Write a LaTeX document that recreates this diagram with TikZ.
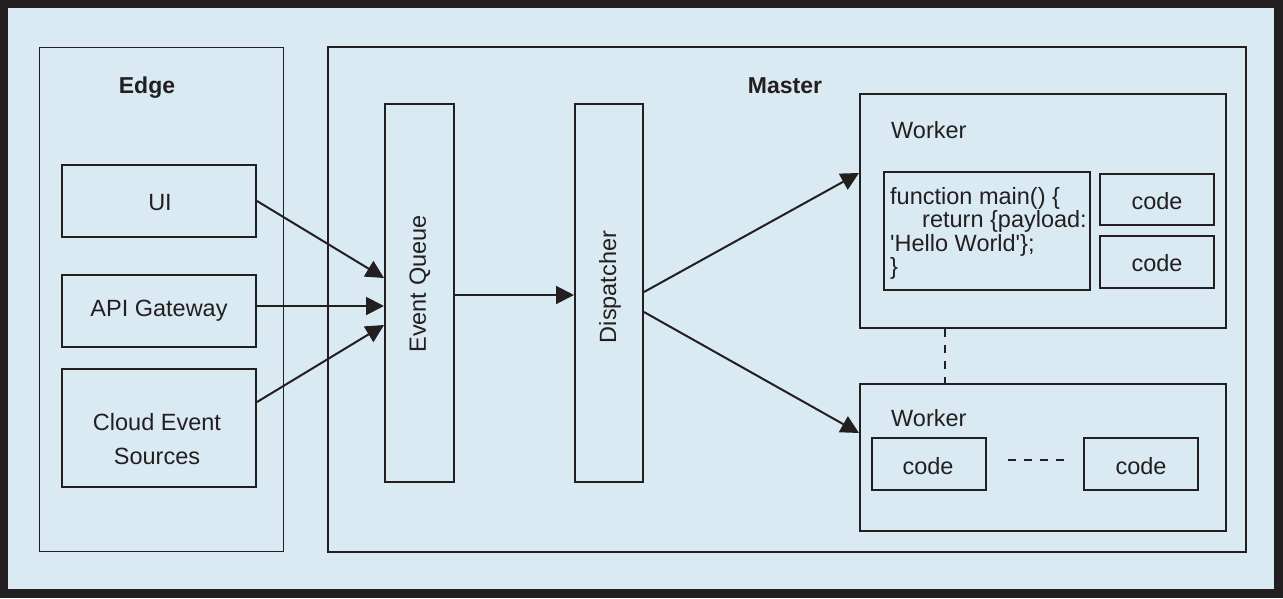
\documentclass[tikz,border=0pt]{standalone}
\usepackage{fontspec}
\setmainfont{Liberation Sans}
\newfontfamily\plainsans{Liberation Sans}
\usetikzlibrary{arrows.meta}
\definecolor{ink}{HTML}{231F20}
\definecolor{bgblue}{HTML}{DAEAF2}
\tikzset{
  box/.style={draw=ink, line width=2pt, inner sep=0pt, text=ink, font=\fontsize{23.5}{34}\selectfont, align=center},
  thinbox/.style={draw=ink, line width=1pt, inner sep=0pt},
  lbl/.style={text=ink, inner sep=0pt, font=\fontsize{23.5}{28}\selectfont},
  blbl/.style={text=ink, inner sep=0pt, font=\fontsize{23}{28}\selectfont\bfseries},
  arr/.style={draw=ink, line width=2pt, -{Triangle[length=18pt,width=18pt]}},
  dashline/.style={draw=ink, line width=2pt, dash pattern=on 8pt off 8pt},
}
\begin{document}
\begin{tikzpicture}[x=1pt,y=-1pt]
\useasboundingbox (0,0) rectangle (1283,598);
\fill[ink] (0,0) rectangle (1283,598);
\fill[bgblue] (8,8) rectangle (1274,589);
% containers
\node[thinbox, minimum width=244, minimum height=504] (edge) at (161,299) {};
\node[box, minimum width=918, minimum height=505] (master) at (787,299.5) {};
\node[blbl] (edgelbl) at (147,88) {Edge};
\node[blbl] (masterlbl) at (785,86) {Master};
% sources
\node[box, minimum width=194, minimum height=72] (ui) at (159,201) {};
\node[lbl] (uilbl) at (160,203) {UI};
\node[box, minimum width=194, minimum height=72] (api) at (159,311) {API Gateway};
\node[box, minimum width=194, minimum height=118] (cloud) at (159,428) {};
\node[lbl, align=center, font=\fontsize{23.5}{34}\selectfont] (cloudlbl) at (157,439) {Cloud Event\\Sources};
% queue and dispatcher
\node[box, minimum width=69, minimum height=378] (eq) at (419.5,293) {};
\node[lbl, rotate=90] (eqlbl) at (420,284) {Event Queue};
\node[box, minimum width=68, minimum height=378] (disp) at (609,293) {};
\node[lbl, rotate=90] (displbl) at (610,287) {Dispatcher};
% workers
\node[box, minimum width=366, minimum height=234] (w1) at (1043,211) {};
\node[lbl, anchor=west] (w1lbl) at (891,130) {Worker};
\node[box, minimum width=206, minimum height=118] (codebox) at (987,231) {};
\node[lbl, anchor=north west, align=left, font=\plainsans\fontsize{23.5}{23.5}\selectfont] (codetxt) at (890,187)
  {function main() \{\\\hspace*{32pt}return \{payload:\\'Hello World'\};\\\}};
\node[box, minimum width=114, minimum height=51] (c1) at (1157,199.5) {};
\node[lbl] (c1lbl) at (1157,201) {code};
\node[box, minimum width=114, minimum height=52] (c2) at (1157,262) {};
\node[lbl] (c2lbl) at (1157,263.5) {code};
\node[box, minimum width=366, minimum height=147] (w2) at (1043,457.5) {};
\node[lbl, anchor=west] (w2lbl) at (891,418) {Worker};
\node[box, minimum width=114, minimum height=52] (c3) at (929,464) {};
\node[lbl] (c3lbl) at (928,466) {code};
\node[box, minimum width=114, minimum height=52] (c4) at (1141,464) {};
\node[lbl] (c4lbl) at (1141,466) {code};
% connectors
\draw[arr] (ui.east) -- ([yshift=15pt]eq.west);
\draw[arr] ([yshift=5pt]api.east) -- ([yshift=-13pt]eq.west);
\draw[arr] ([yshift=26pt]cloud.east) -- ([yshift=-32pt]eq.west);
\draw[arr] ([yshift=-2pt]eq.east) -- ([yshift=-2pt]disp.west);
\draw[arr] ([yshift=1pt]disp.east) -- ([yshift=38pt]w1.west);
\draw[arr] ([yshift=-19pt]disp.east) -- ([yshift=24.5pt]w2.west);
\draw[dashline] ([xshift=-98pt]w1.south) -- ([xshift=-98pt]w2.north);
\draw[dashline, shorten <=21pt, shorten >=19pt] ([yshift=4pt]c3.east) -- ([yshift=4pt]c4.west);
\end{tikzpicture}
\end{document}
